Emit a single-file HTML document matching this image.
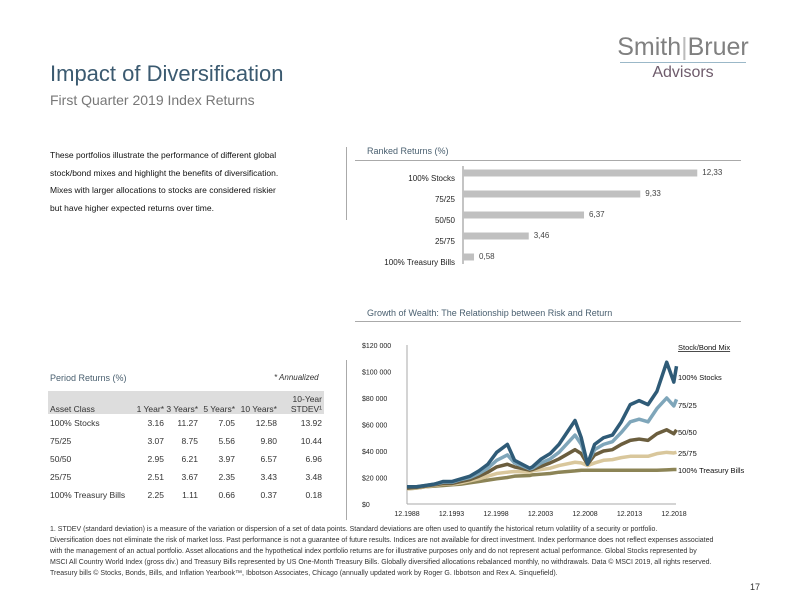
<!DOCTYPE html>
<html><head><meta charset="utf-8"><style>
body{margin:0;width:792px;height:612px;position:relative;background:#fff;font-family:"Liberation Sans",sans-serif;overflow:hidden}
.a{position:absolute;white-space:nowrap}
.tbl td{font-size:8.5px;color:#333;padding:0;height:18px}
</style></head><body>
<div class="a" style="left:50px;top:61px;font-size:22px;color:#3b5a70">Impact of Diversification</div>
<div class="a" style="left:50px;top:92px;font-size:14px;color:#777">First Quarter 2019 Index Returns</div>
<div class="a" style="left:614px;top:33px;width:138px;text-align:center">
<div style="font-size:25px;color:#808080;letter-spacing:0px">Smith<span style="color:#bbb;font-weight:100">|</span>Bruer</div>
<div style="border-top:1px solid #9bb8c8;margin:0 6px 0"></div>
<div style="font-size:16px;color:#6e5b6b;margin-top:1px">Advisors</div></div>
<div class="a" style="left:50px;top:147px;font-size:8.5px;line-height:17.5px;color:#111">These portfolios illustrate the performance of different global<br>stock/bond mixes and highlight the benefits of diversification.<br>Mixes with larger allocations to stocks are considered riskier<br>but have higher expected returns over time.</div>
<div class="a" style="left:346px;top:147px;width:1px;height:73px;background:#aaa"></div>
<div class="a" style="left:346px;top:360px;width:1px;height:160px;background:#aaa"></div>

<div class="a" style="left:367px;top:146px;font-size:9px;color:#4a6070">Ranked Returns (%)</div>
<div class="a" style="left:355px;top:160px;width:386px;height:1px;background:#aaa"></div>
<svg class="a" style="left:0;top:0" width="792" height="612" id="bars"></svg>

<div class="a" style="left:50px;top:373px;font-size:9px;color:#4a6070">Period Returns (%)</div>
<div class="a" style="left:274px;top:373px;font-size:8px;font-style:italic;color:#333">* Annualized</div>
<div class="a" style="left:48px;top:391px;width:276px;height:23px;background:#ddd"></div>
<table class="a tbl" style="left:50px;top:391px;border-collapse:collapse">
<tr style="height:23px"><td style="width:80px;vertical-align:bottom">Asset Class</td><td style="width:34px;text-align:right;vertical-align:bottom">1 Year*</td><td style="width:34px;text-align:right;vertical-align:bottom">3 Years*</td><td style="width:37px;text-align:right;vertical-align:bottom">5 Years*</td><td style="width:42px;text-align:right;vertical-align:bottom">10 Years*</td><td style="width:45px;text-align:right;vertical-align:bottom;line-height:10px">10-Year<br>STDEV¹</td></tr>
<tr><td>100% Stocks</td><td align="right">3.16</td><td align="right">11.27</td><td align="right">7.05</td><td align="right">12.58</td><td align="right">13.92</td></tr>
<tr><td>75/25</td><td align="right">3.07</td><td align="right">8.75</td><td align="right">5.56</td><td align="right">9.80</td><td align="right">10.44</td></tr>
<tr><td>50/50</td><td align="right">2.95</td><td align="right">6.21</td><td align="right">3.97</td><td align="right">6.57</td><td align="right">6.96</td></tr>
<tr><td>25/75</td><td align="right">2.51</td><td align="right">3.67</td><td align="right">2.35</td><td align="right">3.43</td><td align="right">3.48</td></tr>
<tr><td>100% Treasury Bills</td><td align="right">2.25</td><td align="right">1.11</td><td align="right">0.66</td><td align="right">0.37</td><td align="right">0.18</td></tr>
</table>

<div class="a" style="left:367px;top:308px;font-size:9px;color:#4a6070">Growth of Wealth: The Relationship between Risk and Return</div>
<div class="a" style="left:355px;top:321px;width:386px;height:1px;background:#aaa"></div>
<svg class="a" style="left:0;top:0" width="792" height="612" id="lines"></svg>

<div class="a" style="left:50px;top:524px;font-size:7px;line-height:11px;color:#333;white-space:normal;width:665px">1. STDEV (standard deviation) is a measure of the variation or dispersion of a set of data points. Standard deviations are often used to quantify the historical return volatility of a security or portfolio.<br>Diversification does not eliminate the risk of market loss. Past performance is not a guarantee of future results. Indices are not available for direct investment. Index performance does not reflect expenses associated with the management of an actual portfolio. Asset allocations and the hypothetical index portfolio returns are for illustrative purposes only and do not represent actual performance. Global Stocks represented by MSCI All Country World Index (gross div.) and Treasury Bills represented by US One-Month Treasury Bills. Globally diversified allocations rebalanced monthly, no withdrawals. Data © MSCI 2019, all rights reserved. Treasury bills © Stocks, Bonds, Bills, and Inflation Yearbook™, Ibbotson Associates, Chicago (annually updated work by Roger G. Ibbotson and Rex A. Sinquefield).</div>
<div class="a" style="left:750px;top:582px;font-size:9px;color:#333">17</div>

<script>
const barCats=["100% Stocks","75/25","50/50","25/75","100% Treasury Bills"];
const barVals=[12.33,9.33,6.37,3.46,0.58];
const barLabels=["12,33","9,33","6,37","3,46","0,58"];

const years=[1988.92,1990,1991,1992,1993,1994,1995,1996,1997,1998,1999,2000.2,2001,2002.7,2003,2004,2005,2006,2007.8,2008.5,2009.2,2010,2011,2012,2013,2014,2015,2016,2017,2018.1,2018.9,2019.2];
const stocks=[13,13,14,15,17,17,19,21,25,30,39,45,33,27,28,34,38,45,63,50,30,45,50,52,62,75,78,75,85,107,92,104];
const mix7525=[13,13,14,15,16.5,16.5,18.5,20,23,27,33,37,31,26.5,27,31,34,39,52,45,31,41,45,47,54,62,64,62,72,80,74,79];
const mix5050=[12,12.5,13.5,14.5,15.5,15.5,17,18.5,21,24,28,30,28,25.5,26,28.5,31,34,41,38,30,37,40,41,45,48,49,48,53,56,53,56];
const mix2575=[11.5,12,13,14,15,15,16,17.5,19,21,23,24,24.5,24,25,26,27,29,31.5,31,29,31,33,33.5,35,36,36,36,38,39,38.5,39];
const tbills=[11.5,12,13,13.5,14,14.5,15,16,17,18,19,20,21,21.5,22,22.5,23,24,25,25.5,25.5,25.5,25.5,25.5,25.5,25.5,25.5,25.5,25.5,25.8,26,26];
const yTicks=[0,20,40,60,80,100,120];
const yTickLabels=["$0","$20 000","$40 000","$60 000","$80 000","$100 000","$120 000"];
const xTicks=[1988.92,1993.92,1998.92,2003.92,2008.92,2013.92,2018.92];
const xTickLabels=["12.1988","12.1993","12.1998","12.2003","12.2008","12.2013","12.2018"];
const seriesNames=["100% Stocks","75/25","50/50","25/75","100% Treasury Bills"];

const NS="http://www.w3.org/2000/svg";
function mk(p,t,a){const e=document.createElementNS(NS,t);for(const k in a)e.setAttribute(k,a[k]);p.appendChild(e);return e;}

const bs=document.getElementById('bars');
const bx0=463, bk=19, by=v=>173+v*21;
const bxv=v=>bx0+v*bk;
const bax=mk(bs,'line',{x1:bx0,x2:bx0,y1:166,y2:264,stroke:'#888','stroke-width':1});


barVals.forEach((v,i)=>{
 const r=mk(bs,'rect',{x:bx0,y:by(i)-3.5,width:bxv(v)-bx0,height:7,fill:'#c0c0c0'});
 
 
 const l=mk(bs,'text',{x:bx0-8,y:by(i)+8,'text-anchor':'end','font-size':8,fill:'#222','font-family':'Liberation Sans'});l.textContent=barCats[i];
 
 
 const t=mk(bs,'text',{x:bxv(v)+5,y:by(i)+2,'font-size':8,fill:'#444','font-family':'Liberation Sans'});t.textContent=barLabels[i];
 
 
});

const ls=document.getElementById('lines');
const X=y=>407+(y-1988.92)*(674-407)/30;
const Y=v=>504-v*159/120;
mk(ls,'line',{x1:407,x2:407,y1:345,y2:504,stroke:'#aaa'});
mk(ls,'line',{x1:407,x2:676,y1:504,y2:504,stroke:'#aaa'});
yTicks.forEach((t,i)=>{const e=mk(ls,'text',{x:362,y:Y(t)+3,'font-size':7,fill:'#222','font-family':'Liberation Sans'});e.textContent=yTickLabels[i];
 
 });
xTicks.forEach((t,i)=>{const e=mk(ls,'text',{x:X(t),y:516,'text-anchor':'middle','font-size':7,fill:'#222','font-family':'Liberation Sans'});e.textContent=xTickLabels[i];
 
 });
const series=[tbills,mix2575,mix5050,mix7525,stocks];
const colors=['#8c8456','#d9c79c','#6b5e3e','#7fa6ba','#2f5b77'];
const sn=['tbills','mix-25-75','mix-50-50','mix-75-25','stocks'];
series.forEach((s,j)=>{
 const p=mk(ls,'polyline',{points:s.map((v,i)=>X(years[i])+','+Y(v)).join(' '),fill:'none',stroke:colors[j],'stroke-width':3.5,'stroke-linejoin':'round'});
 
 
});
const lg=mk(ls,'text',{x:678,y:350,'font-size':7.5,fill:'#111','text-decoration':'underline','font-family':'Liberation Sans'});lg.textContent='Stock/Bond Mix';


const lys=[380,408,435,456,473];
seriesNames.forEach((n,i)=>{const e=mk(ls,'text',{x:678,y:lys[i],'font-size':7.5,fill:'#111','font-family':'Liberation Sans'});e.textContent=n;
 
 });
</script>
</body></html>
